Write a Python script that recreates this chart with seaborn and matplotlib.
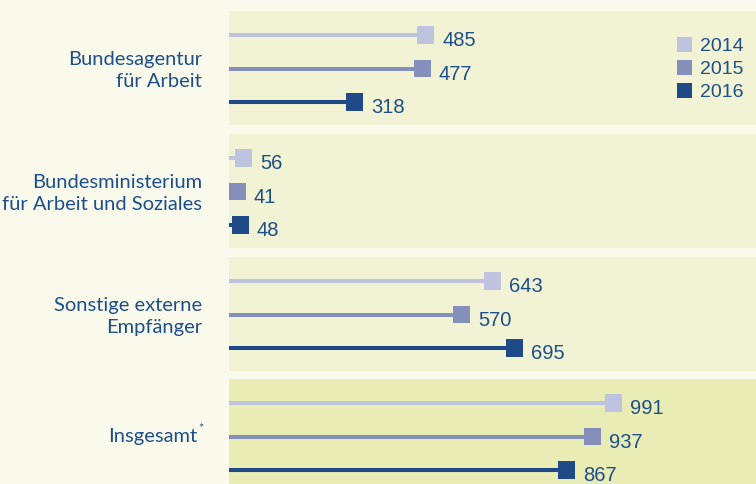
import pandas as pd
import seaborn as sns
import matplotlib.pyplot as plt
from matplotlib.lines import Line2D
import matplotlib.transforms as mtransforms

# data
categories = [
    "Bundesagentur\nfür Arbeit",
    "Bundesministerium\nfür Arbeit und Soziales",
    "Sonstige externe\nEmpfänger",
    "Insgesamt",
]
years = ["2014", "2015", "2016"]
values_2014 = [485, 56, 643, 991]
values_2015 = [477, 41, 570, 937]
values_2016 = [318, 48, 695, 867]

rows = []
for i, cat in enumerate(categories):
    for j, (yr, vals) in enumerate(zip(years, [values_2014, values_2015, values_2016])):
        rows.append({"group": i, "category": cat, "year": yr, "row": j, "value": vals[i]})
df = pd.DataFrame(rows)

sns.set_style("white")
plt.rcParams["font.family"] = ["Liberation Sans", "DejaVu Sans"]
label_font = ["Lato", "Liberation Sans", "DejaVu Sans"]

palette = {"2014": "#bec3df", "2015": "#8490ba", "2016": "#1f4a87"}
text_color = "#1d4f8a"
fig_bg = "#fafaec"
panel_bg = ["#f2f3d4", "#f2f3d4", "#f2f3d4", "#e9ecb4"]

W, H = 756, 484
fig = plt.figure(figsize=(W / 100, H / 100), dpi=100)
fig.patch.set_facecolor(fig_bg)

panel_tops = [11, 134, 257, 379]
panel_h = 114
# the last (total) panel uses a compressed scale, as in the original
xlims = [(21.0, 1265.4), (21.0, 1265.4), (21.0, 1265.4), (-25.9, 1368.3)]

for i, cat in enumerate(categories):
    top = panel_tops[i]
    ax = fig.add_axes([229 / W, 1 - (top + panel_h) / H, 1 - 229 / W, panel_h / H])
    ax.set_facecolor(panel_bg[i])
    sub = df[df["group"] == i]
    x0 = xlims[i][0]
    for _, r in sub.iterrows():
        ax.hlines(r["row"], x0, r["value"], color=palette[r["year"]], lw=2.9,
                  capstyle="butt", zorder=2)
    sns.scatterplot(data=sub, x="value", y="row", hue="year", palette=palette,
                    marker="s", s=150, linewidth=0, legend=False, ax=ax, zorder=3)
    for _, r in sub.iterrows():
        ax.annotate(f"{r['value']}", (r["value"], r["row"]), xytext=(11.9, -8.0),
                    textcoords="offset points", ha="left", va="baseline",
                    fontsize=14.5, color=text_color)
    ax.set_xlim(*xlims[i])
    ax.set_ylim(2 + (panel_h - 91) / 33.5, -24 / 33.5)
    ax.set_xticks([])
    ax.set_yticks([])
    ax.set_xlabel("")
    ax.set_ylabel("")
    sns.despine(ax=ax, left=True, bottom=True)

    trans = mtransforms.blended_transform_factory(fig.transFigure, ax.transData)
    if cat == "Insgesamt":
        ax.text(197 / W, 1, cat, transform=trans, ha="right", va="center",
                fontsize=14.5, family=label_font, color=text_color, clip_on=False)
        ax.text(198 / W, 0.78, "*", transform=trans, ha="left", va="center",
                fontsize=9, family=label_font, color=text_color, clip_on=False)
    else:
        ax.text(202 / W, 1.05, cat, transform=trans, ha="right", va="center",
                multialignment="right", fontsize=14.5, linespacing=1.35,
                family=label_font, color=text_color, clip_on=False)

    if i == 0:
        handles = [Line2D([], [], marker="s", linestyle="none", markersize=10.8,
                          markerfacecolor=palette[y], markeredgewidth=0) for y in years]
        leg = fig.legend(handles, years, loc="center left",
                         bbox_to_anchor=(674 / W, 1 - 69 / H), frameon=False,
                         fontsize=14, handlelength=1.0, handletextpad=0.35,
                         labelspacing=0.28, borderpad=0, borderaxespad=0)
        for t in leg.get_texts():
            t.set_color(text_color)

fig.savefig("out.png", dpi=100, facecolor=fig_bg)
